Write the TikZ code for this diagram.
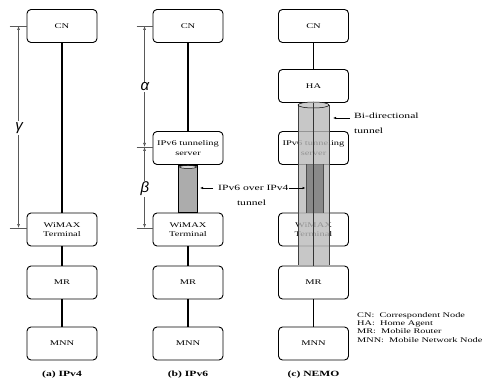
\documentclass[tikz,border=0pt]{standalone}
\usepackage{fontspec}
\setmainfont{Liberation Serif}[FakeStretch=1.45]
\newfontfamily\greekfont{Liberation Sans}
\usetikzlibrary{arrows.meta,calc}
\begin{document}
\begin{tikzpicture}[x=1pt,y=-1pt,
  box/.style={draw, rounded corners=4pt, line width=0.9pt, minimum width=70pt, minimum height=33pt, align=center, inner sep=1pt, font=\fontsize{7.2}{9.5}\selectfont, fill=white},
  conn/.style={line width=1.2pt},
  dimline/.style={draw=gray!70!black, line width=0.6pt, {Latex[length=4pt,width=3pt]}-{Latex[length=4pt,width=3pt]}},
  dimtick/.style={draw=gray!70!black, line width=0.6pt},
  glabel/.style={fill=white, inner sep=1pt, font=\greekfont\itshape\fontsize{15}{15}\selectfont},
  captext/.style={font=\fontsize{8}{10}\selectfont\bfseries},
  note/.style={font=\fontsize{8}{9}\selectfont, inner sep=1pt},
  ptr/.style={line width=0.6pt, -{Latex[length=3pt,width=2.5pt]}}
]
\useasboundingbox (0,0) rectangle (489,382);
% column (a)
\node[box] (cnA) at (62,26) {CN};
\node[box] (wA) at (62,229.5) {WiMAX\\Terminal};
\node[box] (mrA) at (62,282.5) {MR};
\node[box] (mnnA) at (62,343.5) {MNN};
\draw[conn] (cnA) -- (wA);
\draw[conn] (wA) -- (mrA);
\draw[conn] (mrA) -- (mnnA);
\node[captext] (capA) at (62,375) {(a) IPv4};
\coordinate (ta1) at ($(cnA.west)+(-17,0)$);
\coordinate (ta2) at ($(wA.west)+(-17,-1.5)$);
\draw[dimtick] (ta1) -- (cnA.west);
\draw[dimtick] (ta2) -- ($(wA.west)+(0,-1.5)$);
\coordinate (da1) at ($(ta1)+(9,0)$);
\coordinate (da2) at ($(ta2)+(9,0)$);
\draw[dimline] (da1) -- (da2);
\node[glabel] (gam) at (19,128) {γ};
% column (b)
\node[box] (cnB) at (188,26) {CN};
\node[box] (srvB) at (188,148) {IPv6 tunneling\\server};
\node[box] (wB) at (188,229.5) {WiMAX\\Terminal};
\node[box] (mrB) at (188,282.5) {MR};
\node[box] (mnnB) at (188,343.5) {MNN};
\draw[conn] (cnB) -- (srvB);
\draw[conn] (wB) -- (mrB);
\draw[conn] (mrB) -- (mnnB);
\draw[line width=0.9pt, fill=gray!65] ($(srvB.south)+(-9.5,0)$) rectangle ($(wB.north)+(9.5,0)$);
\draw[line width=0.5pt, fill=gray!30] ($(srvB.south)+(0,2)$) ellipse (8.5 and 1.5);
\coordinate (tb1) at ($(cnB.west)+(-16,0)$);
\coordinate (tb2) at ($(srvB.west)+(-16,-1)$);
\coordinate (tb3) at ($(wB.west)+(-16,-1.5)$);
\draw[dimtick] (tb1) -- (cnB.west);
\draw[dimtick] (tb2) -- ($(srvB.west)+(0,-1)$);
\draw[dimtick] (tb3) -- ($(wB.west)+(0,-1.5)$);
\draw[dimline] ($(tb1)+(8,0)$) -- ($(tb2)+(8,0)$);
\draw[dimline] ($(tb2)+(8,0)$) -- ($(tb3)+(8,0)$);
\node[glabel] (alp) at (145,87) {α};
\node[glabel] (bet) at (145,189) {β};
\node[note, anchor=west] (tunB) at (217,188) {IPv6 over IPv4};
\node[note] (tunB2) at (251.5,203) {tunnel};
\coordinate (arB) at (213,188);
\draw[ptr] (arB) -- ++(-13,0);
\node[captext] (capB) at (188,375) {(b) IPv6};
% column (c)
\node[box] (cnC) at (313.5,26) {CN};
\node[box] (haC) at (313.5,86) {HA};
\node[box] (srvC) at (313.5,148) {IPv6 tunneling\\server};
\node[box] (wC) at (313.5,229.5) {WiMAX\\Terminal};
\node[box] (mrC) at (313.5,282.5) {MR};
\node[box] (mnnC) at (313.5,343.5) {MNN};
\draw[conn] (cnC) -- (haC);
\draw[conn] (mrC) -- (mnnC);
\fill[gray!55, fill opacity=0.8] (298,105) rectangle (329,265);
\fill[gray!75!black, fill opacity=0.6] (306,164) rectangle (323,213);
\draw[line width=0.5pt, gray!50!black] (298,105) -- (298,265) (329,105) -- (329,265);
\draw[line width=0.5pt, fill=gray!40] (313.5,105) ellipse (15.5 and 3);
\draw[conn, black!80] (haC) -- (mrC);
\draw[line width=0.5pt, gray!60!black] (306,164) -- (306,213) (323,164) -- (323,213);
\coordinate (arB2) at (289,188);
\draw[ptr] (arB2) -- (305.5,188);
\coordinate (arC) at (350,118);
\node[note, anchor=west] (bidi) at (353,116) {Bi-directional};
\node[note, anchor=west] (bidi2) at (353,131) {tunnel};
\draw[ptr] (arC) -- ++(-17,0);
\node[captext] (capC) at (313.5,375) {(c) NEMO};
\node[note, anchor=north west, align=left, font=\fontsize{7.1}{8.4}\selectfont] (legend) at (356,311)
  {CN:\ \ Correspondent Node\\HA:\ \ Home Agent\\MR:\ \ Mobile Router\\MNN:\ \ Mobile Network Node};
\end{tikzpicture}
\end{document}
